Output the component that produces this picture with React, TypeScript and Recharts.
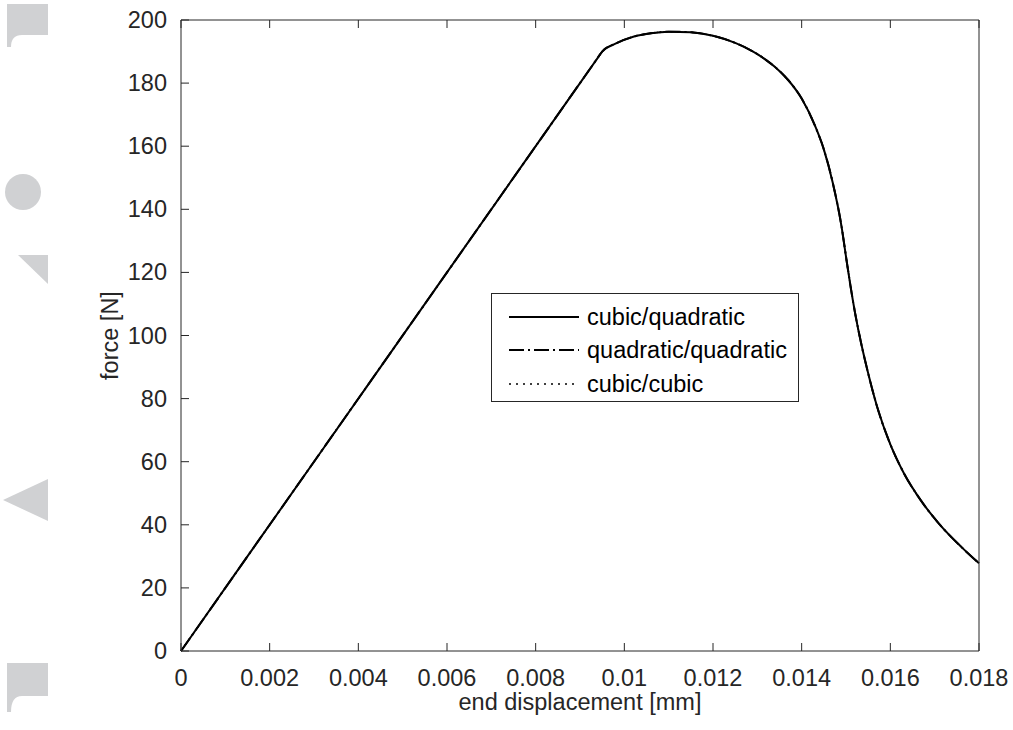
import { LineChart, Line, XAxis, YAxis, Legend } from "recharts";

// end displacement [mm] and force [N]
const displacement = [
  0, 0.003, 0.006, 0.009, 0.0094, 0.0095, 0.0098, 0.0102, 0.0106, 0.011, 0.0115, 0.012,
  0.0125, 0.0128, 0.013, 0.0132, 0.0134, 0.0137, 0.014, 0.0143, 0.0145, 0.0147, 0.0149,
  0.015, 0.0151, 0.0152, 0.0153, 0.0155, 0.0157, 0.016, 0.0163, 0.0167, 0.0171, 0.0176, 0.018,
];
const forceCubicQuadratic = [
  0, 60, 120, 180, 188, 190, 192.5, 194.7, 195.8, 196.3, 196.1, 195.0,
  192.75, 190.8, 189.2, 187.3, 185.1, 180.9, 175.1, 166.5, 159.0, 148.5, 134.5,
  125.0, 115.8, 107.5, 100.3, 88.0, 77.5, 65.5, 56.5, 47.5, 40.3, 33.0, 27.8,
];
const forceQuadraticQuadratic = [
  0, 60, 120, 180, 188, 190, 192.5, 194.7, 195.8, 196.3, 196.1, 195.0,
  192.75, 190.8, 189.2, 187.3, 185.1, 180.9, 175.1, 166.5, 159.0, 148.5, 134.5,
  125.0, 115.8, 107.5, 100.3, 88.0, 77.5, 65.5, 56.5, 47.5, 40.3, 33.0, 27.8,
];
const forceCubicCubic = [
  0, 60, 120, 180, 188, 190, 192.5, 194.7, 195.8, 196.3, 196.1, 195.0,
  192.75, 190.8, 189.2, 187.3, 185.1, 180.9, 175.1, 166.5, 159.0, 148.5, 134.5,
  125.0, 115.8, 107.5, 100.3, 88.0, 77.5, 65.5, 56.5, 47.5, 40.3, 33.0, 27.8,
];

const xTicks = [0, 0.002, 0.004, 0.006, 0.008, 0.01, 0.012, 0.014, 0.016, 0.018];
const yTicks = [0, 20, 40, 60, 80, 100, 120, 140, 160, 180, 200];
const legendOrder = ["cubic/quadratic", "quadratic/quadratic", "cubic/cubic"];

const data = displacement.map((d, i) => ({
  d,
  cq: forceCubicQuadratic[i],
  qq: forceQuadraticQuadratic[i],
  cc: forceCubicCubic[i],
}));

const AXIS = "#262626";
const FONT = "'Liberation Sans', Arial, Helvetica, sans-serif";
const FS = 23.5;
const TICK = 8;

function BottomTick({ x, y, payload }: any) {
  return (
    <g>
      <line x1={x} y1={y} x2={x} y2={y - TICK} stroke={AXIS} />
      <text x={x} y={y + 35} textAnchor="middle" fontSize={FS} fill={AXIS} fontFamily={FONT}>
        {String(payload.value)}
      </text>
    </g>
  );
}
function TopTick({ x, y }: any) {
  return <line x1={x} y1={y} x2={x} y2={y + TICK} stroke={AXIS} />;
}
function LeftTick({ x, y, payload }: any) {
  return (
    <g>
      <line x1={x} y1={y} x2={x + TICK} y2={y} stroke={AXIS} />
      <text x={x - 14} y={y + 8} textAnchor="end" fontSize={FS} fill={AXIS} fontFamily={FONT}>
        {String(payload.value)}
      </text>
    </g>
  );
}
function RightTick({ x, y }: any) {
  return <line x1={x} y1={y} x2={x - TICK} y2={y} stroke={AXIS} />;
}

function LegendBox({ payload }: any) {
  const items = [...(payload ?? [])].sort(
    (a: any, b: any) => legendOrder.indexOf(a.value) - legendOrder.indexOf(b.value)
  );
  return (
    <div
      style={{
        width: 306,
        height: 107,
        border: `1px solid ${AXIS}`,
        background: "#fff",
        fontFamily: FONT,
        fontSize: FS,
        color: "#000",
      }}
    >
      <div style={{ height: 6 }} />
      {items.map((p: any) => (
        <div key={p.value} style={{ display: "flex", alignItems: "center", height: 33.5 }}>
          <svg width={95} height={10} style={{ flex: "none" }}>
            <line
              x1={17}
              y1={5}
              x2={87}
              y2={5}
              stroke="#000"
              strokeWidth={p.payload?.strokeWidth ?? 2}
              strokeDasharray={p.payload?.strokeDasharray}
            />
          </svg>
          <span style={{ lineHeight: "24px" }}>{p.value}</span>
        </div>
      ))}
    </div>
  );
}

function Decorations() {
  const grey = "#d0d1d3";
  return (
    <svg width={60} height={730} style={{ position: "absolute", left: 0, top: 0 }}>
      <path d="M7,4 H48 V35 H22 Q11,35 11,47 H7 Z" fill={grey} />
      <circle cx={23} cy={192} r={18} fill={grey} />
      <path d="M18,255 H48 V284 Z" fill={grey} />
      <path d="M48,479 L3,500 L48,521 Z" fill={grey} />
      <path d="M7,663 H48 V696 H22 Q11,696 11,712 H7 Z" fill={grey} />
    </svg>
  );
}

export default function App() {
  return (
    <div style={{ position: "absolute", left: 0, top: 0, width: 1013, height: 730, background: "#fff" }}>
      <Decorations />
      <LineChart
        width={1013}
        height={730}
        data={data}
        margin={{ top: 19, right: 33, bottom: 49, left: 121 }}
        style={{ position: "absolute", left: 0, top: 0 }}
      >
        <XAxis
          xAxisId="bottom"
          dataKey="d"
          type="number"
          domain={[0, 0.018]}
          ticks={xTicks}
          interval={0}
          height={30}
          tickSize={0}
          tickMargin={0}
          tickLine={false}
          axisLine={{ stroke: AXIS }}
          tick={<BottomTick />}
          label={{
            content: ({ viewBox }: any) => (
              <text
                x={viewBox.x + viewBox.width / 2}
                y={viewBox.y + 59}
                textAnchor="middle"
                fontSize={FS}
                fill={AXIS}
                fontFamily={FONT}
              >
                end displacement [mm]
              </text>
            ),
          }}
        />
        <XAxis
          xAxisId="top"
          orientation="top"
          dataKey="d"
          type="number"
          domain={[0, 0.018]}
          ticks={xTicks}
          interval={0}
          height={1}
          tickSize={0}
          tickMargin={0}
          tickLine={false}
          axisLine={{ stroke: AXIS }}
          tick={<TopTick />}
        />
        <YAxis
          yAxisId="left"
          type="number"
          domain={[0, 200]}
          ticks={yTicks}
          interval={0}
          width={60}
          tickSize={0}
          tickMargin={0}
          tickLine={false}
          axisLine={{ stroke: AXIS }}
          tick={<LeftTick />}
          label={{
            content: ({ viewBox }: any) => {
              const cx = viewBox.x - 3;
              const cy = viewBox.y + viewBox.height / 2;
              return (
                <text
                  x={cx}
                  y={cy}
                  transform={`rotate(-90 ${cx} ${cy})`}
                  textAnchor="middle"
                  fontSize={FS}
                  fill={AXIS}
                  fontFamily={FONT}
                >
                  force [N]
                </text>
              );
            },
          }}
        />
        <YAxis
          yAxisId="right"
          orientation="right"
          type="number"
          domain={[0, 200]}
          ticks={yTicks}
          interval={0}
          width={1}
          tickSize={0}
          tickMargin={0}
          tickLine={false}
          axisLine={{ stroke: AXIS }}
          tick={<RightTick />}
        />
        <Legend
          layout="horizontal"
          verticalAlign="middle"
          align="center"
          content={<LegendBox />}
          wrapperStyle={{ left: 491, top: 293, width: 308, height: 109 }}
        />
        <Line
          xAxisId="bottom"
          yAxisId="left"
          name="cubic/quadratic"
          dataKey="cq"
          type="monotone"
          stroke="#000"
          strokeWidth={2}
          dot={false}
          isAnimationActive={false}
        />
        <Line
          xAxisId="bottom"
          yAxisId="left"
          name="quadratic/quadratic"
          dataKey="qq"
          type="monotone"
          stroke="#000"
          strokeWidth={2}
          strokeDasharray="15 4 2 4"
          dot={false}
          isAnimationActive={false}
        />
        <Line
          xAxisId="bottom"
          yAxisId="left"
          name="cubic/cubic"
          dataKey="cc"
          type="monotone"
          stroke="#000"
          strokeWidth={1.5}
          strokeDasharray="2 5"
          dot={false}
          isAnimationActive={false}
        />
      </LineChart>
    </div>
  );
}
